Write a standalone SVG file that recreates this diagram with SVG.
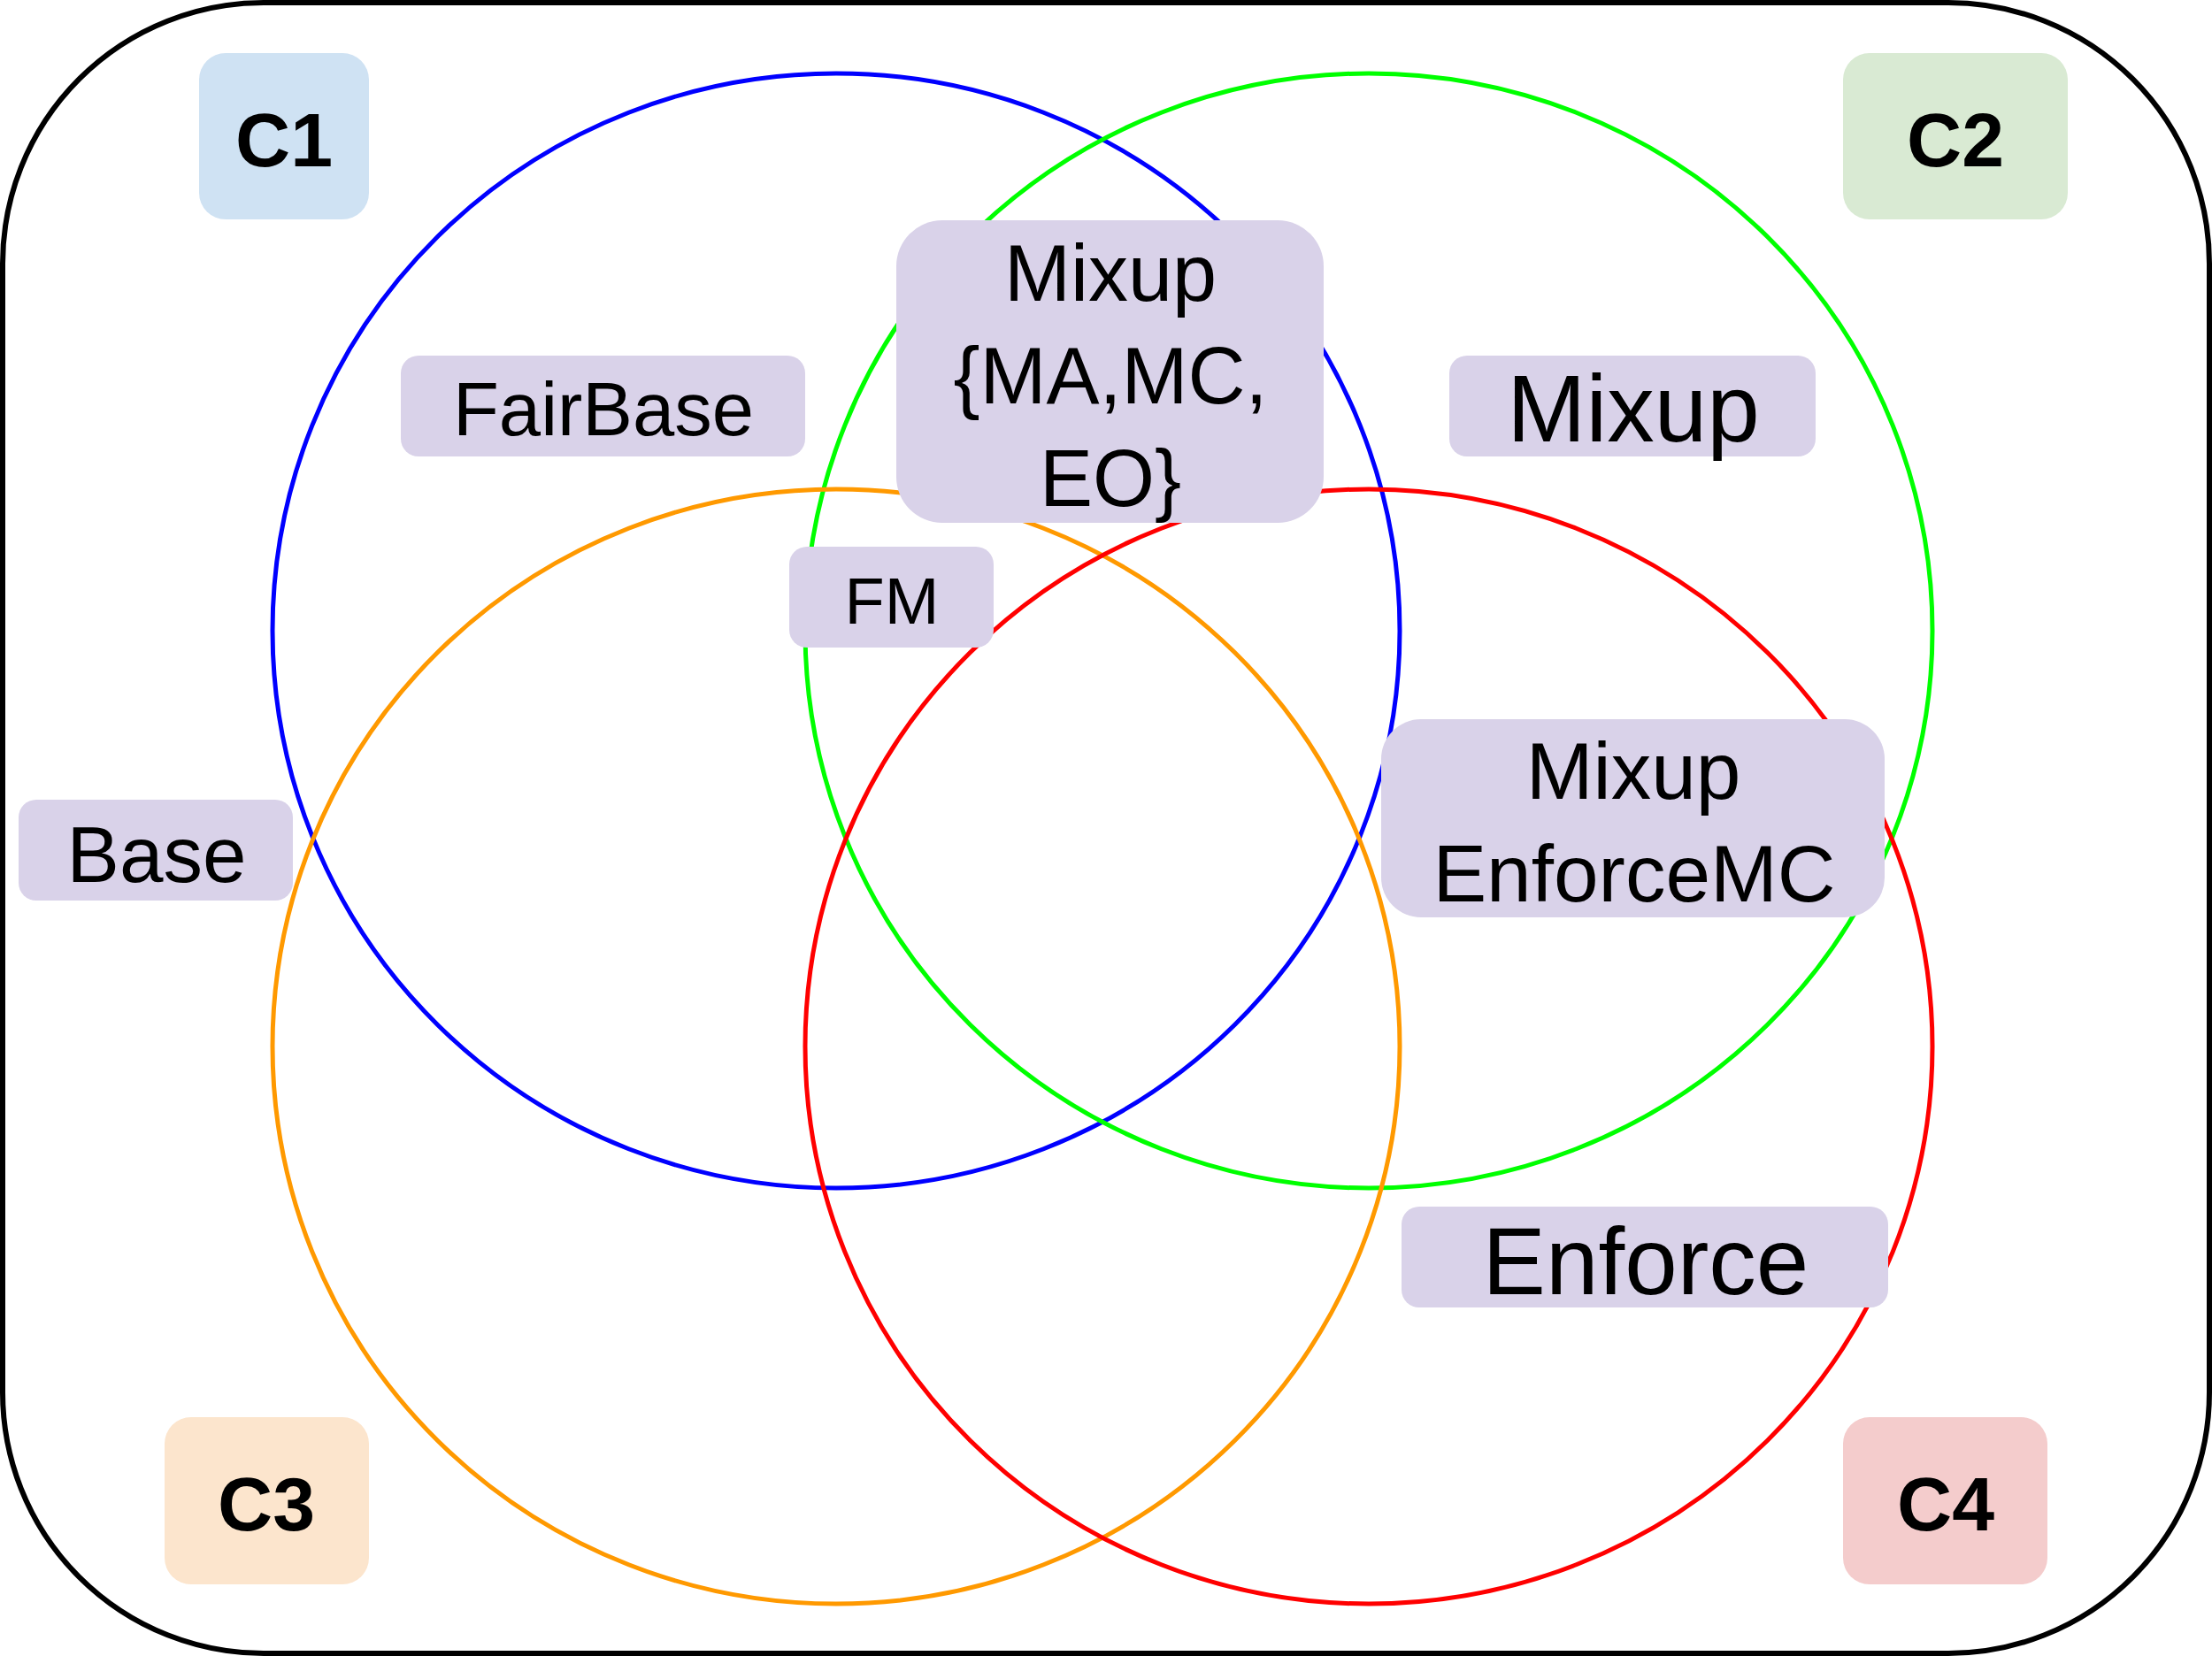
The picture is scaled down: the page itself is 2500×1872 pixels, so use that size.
<svg xmlns="http://www.w3.org/2000/svg" width="2500" height="1872" viewBox="0 0 2500 1872">
  <style>
    .ring { fill: none; stroke-width: 5; }
    .lbl { fill: #d9d2e9; }
    .t { font-family: "Liberation Sans", Arial, sans-serif; fill: #000; text-anchor: middle; }
    .tb { font-family: "Liberation Sans", Arial, sans-serif; font-weight: bold; fill: #000; text-anchor: middle; font-size: 86px; }
  </style>
  <rect width="2500" height="1872" fill="#ffffff"/>
  <rect id="frame" x="3" y="3" width="2494" height="1866" rx="295" ry="295" fill="none" stroke="#000" stroke-width="6"/>

  <g id="sets">
    <ellipse id="set-C1" class="ring" cx="945" cy="713" rx="637" ry="630" stroke="#0000ff"/>
    <ellipse id="set-C2" class="ring" cx="1547" cy="713" rx="637" ry="630" stroke="#00ff00"/>
    <ellipse id="set-C3" class="ring" cx="945" cy="1183" rx="637" ry="630" stroke="#ff9900"/>
    <ellipse id="set-C4" class="ring" cx="1547" cy="1183" rx="637" ry="630" stroke="#ff0000"/>
  </g>

  <g id="c1">
    <rect x="225" y="60" width="192" height="188" rx="30" fill="#cfe2f3"/>
    <text class="tb" x="321" y="188">C1</text>
  </g>
  <g id="c2">
    <rect x="2083" y="60" width="254" height="188" rx="30" fill="#d9ead3"/>
    <text class="tb" x="2210" y="188">C2</text>
  </g>
  <g id="c3">
    <rect x="186" y="1602" width="231" height="189" rx="30" fill="#fce5cd"/>
    <text class="tb" x="301" y="1730">C3</text>
  </g>
  <g id="c4">
    <rect x="2083" y="1602" width="231" height="189" rx="30" fill="#f4cccc"/>
    <text class="tb" x="2199" y="1730">C4</text>
  </g>

  <g id="fairbase">
    <rect class="lbl" x="453" y="402" width="457" height="114" rx="20"/>
    <text class="t" x="682" y="492" font-size="85">FairBase</text>
  </g>
  <g id="mixup-c2">
    <rect class="lbl" x="1638" y="402" width="414" height="114" rx="20"/>
    <text class="t" x="1846" y="499" font-size="107">Mixup</text>
  </g>
  <g id="base">
    <rect class="lbl" x="21" y="904" width="310" height="114" rx="20"/>
    <text class="t" x="177" y="997" font-size="89">Base</text>
  </g>
  <g id="fm">
    <rect class="lbl" x="892" y="618" width="231" height="114" rx="20"/>
    <text class="t" x="1008" y="705" font-size="74">FM</text>
  </g>
  <g id="mixup-variants">
    <rect class="lbl" x="1013" y="249" width="483" height="342" rx="52"/>
    <text class="t" x="1255" y="340" font-size="90">Mixup</text>
    <text class="t" x="1255" y="456" font-size="90">{MA,MC,</text>
    <text class="t" x="1255" y="572" font-size="90">EO}</text>
  </g>
  <g id="mixup-enforcemc">
    <rect class="lbl" x="1561" y="813" width="569" height="224" rx="45"/>
    <text class="t" x="1846" y="903" font-size="91">Mixup</text>
    <text class="t" x="1847" y="1019" font-size="91">EnforceMC</text>
  </g>
  <g id="enforce">
    <rect class="lbl" x="1584" y="1364" width="550" height="114" rx="20"/>
    <text class="t" x="1860" y="1463" font-size="107">Enforce</text>
  </g>
</svg>
